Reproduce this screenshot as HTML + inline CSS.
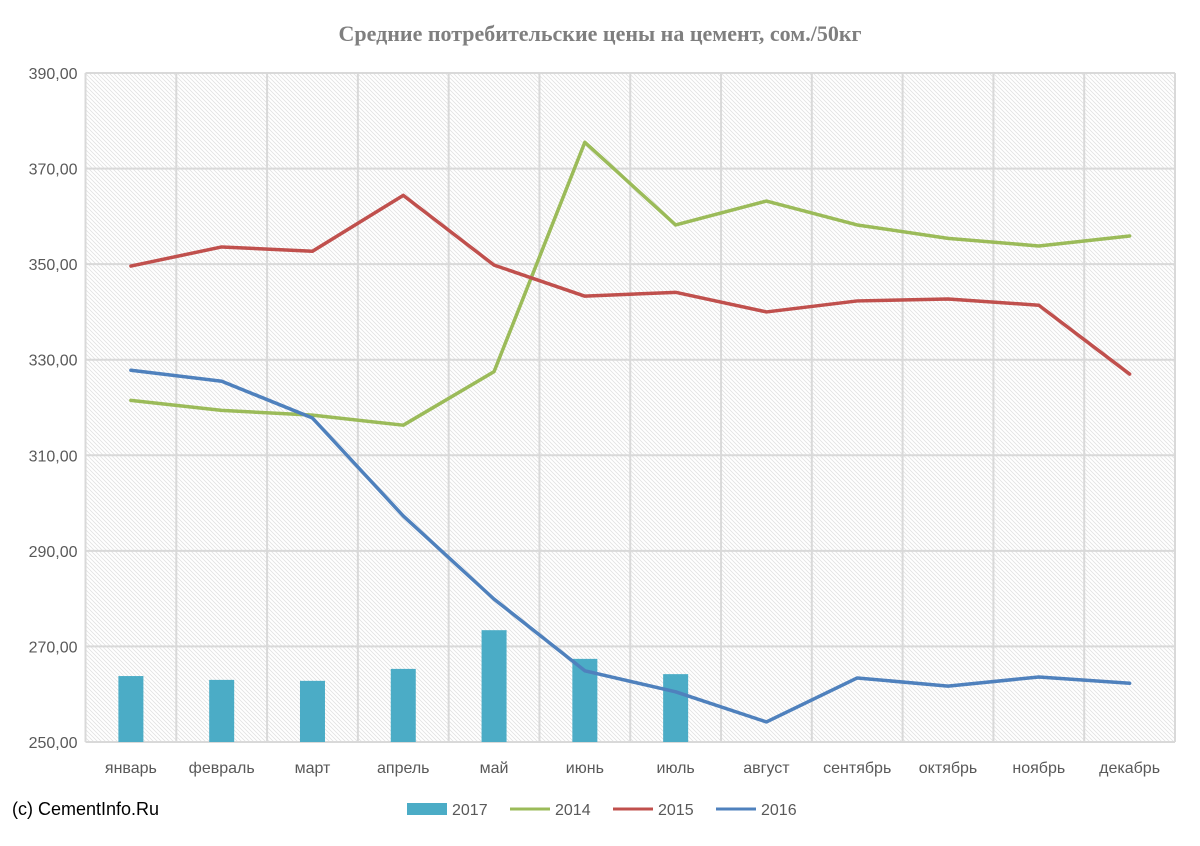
<!DOCTYPE html>
<html><head><meta charset="utf-8"><style>
body{margin:0;background:#fff;}
svg text{font-family:"Liberation Sans",sans-serif;}
</style></head><body>
<svg id="chart" width="1200" height="841" xmlns="http://www.w3.org/2000/svg">
<defs>
<pattern id="hatch" width="4" height="4" patternUnits="userSpaceOnUse">
<path d="M-1,-1 L5,5 M-1,3 L1,5 M3,-1 L5,1" stroke="#e3e3e3" stroke-width="0.9"/>
</pattern>
</defs>
<text x="600" y="41" text-anchor="middle" font-size="22" font-weight="bold" fill="#7f7f7f" style="font-family:'Liberation Serif',serif">Средние потребительские цены на цемент, сом./50кг</text>
<g id="plot"></g>
<text x="12" y="815" font-size="18" fill="#000">(c) CementInfo.Ru</text>
<g>
<rect x="407" y="803" width="40" height="12" fill="#4bacc6"/>
<text x="452" y="815" font-size="16" fill="#595959">2017</text>
<line x1="510" y1="809" x2="550" y2="809" stroke="#9bbb59" stroke-width="3"/>
<text x="555" y="815" font-size="16" fill="#595959">2014</text>
<line x1="613" y1="809" x2="653" y2="809" stroke="#c0504d" stroke-width="3"/>
<text x="658" y="815" font-size="16" fill="#595959">2015</text>
<line x1="716" y1="809" x2="756" y2="809" stroke="#4f81bd" stroke-width="3"/>
<text x="761" y="815" font-size="16" fill="#595959">2016</text>
</g>
</svg>
<script>
const categories=["январь","февраль","март","апрель","май","июнь","июль","август","сентябрь","октябрь","ноябрь","декабрь"];
const yTicks=[250,270,290,310,330,350,370,390];
const s2017=[263.8,263.0,262.8,265.3,273.4,267.4,264.2];
const s2014=[321.5,319.4,318.4,316.3,327.5,375.5,358.2,363.2,358.2,355.4,353.8,355.9];
const s2015=[349.6,353.6,352.7,364.4,349.8,343.3,344.1,340.0,342.3,342.7,341.4,327.0];
const s2016=[327.8,325.5,317.8,297.3,279.9,264.9,260.5,254.2,263.4,261.7,263.6,262.3];
const NS="http://www.w3.org/2000/svg";
const L=85.5,R=1175,T=73,B=742,ymin=250,ymax=390;
const bw=(R-L)/categories.length;
const x=i=>L+bw*(i+0.5);
const y=v=>B-(v-ymin)/(ymax-ymin)*(B-T);
const g=document.getElementById('plot');
function mk(t,a){const e=document.createElementNS(NS,t);for(const k in a)e.setAttribute(k,a[k]);g.appendChild(e);return e;}
let bg=mk('rect',{x:L,y:T,width:R-L,height:B-T,fill:'url(#hatch)'});


yTicks.forEach(v=>{
 let ln=mk('line',{x1:L,x2:R,y1:y(v),y2:y(v),stroke:'#d9d9d9','stroke-width':2});
 
 
 let t=mk('text',{x:L-8,y:y(v)+6,'text-anchor':'end','font-size':16,fill:'#595959'});
 t.textContent=v.toFixed(2).replace('.',',');
 
 
});
for(let i=0;i<=categories.length;i++){
 let ln=mk('line',{x1:L+bw*i,x2:L+bw*i,y1:T,y2:B,stroke:'#d9d9d9','stroke-width':2});
 
 
}
categories.forEach((c,i)=>{
 let t=mk('text',{x:x(i),y:773,'text-anchor':'middle','font-size':16,fill:'#595959'});
 t.textContent=c;
 
 
});
s2017.forEach((v,i)=>{
 let r=mk('rect',{x:x(i)-12.5,y:y(v),width:25,height:B-y(v),fill:'#4bacc6'});
 
 
});
function line(arr,col,name){
 let p=mk('polyline',{points:arr.map((v,i)=>x(i)+','+y(v)).join(' '),fill:'none',stroke:col,'stroke-width':3.5,'stroke-linejoin':'round','stroke-linecap':'round'});
 
 
}
line(s2014,'#9bbb59','line-2014');
line(s2015,'#c0504d','line-2015');
line(s2016,'#4f81bd','line-2016');
</script>
</body></html>
